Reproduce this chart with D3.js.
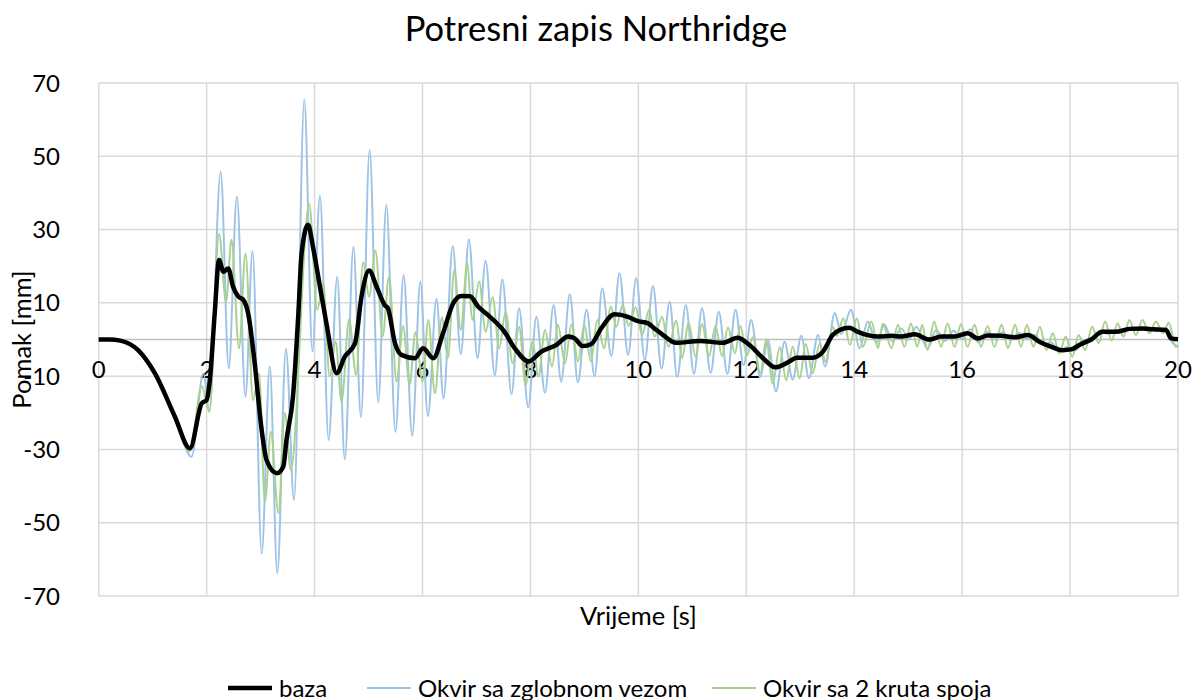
<!DOCTYPE html>
<html>
<head>
<meta charset="utf-8">
<script src="https://cdn.jsdelivr.net/npm/d3@7"></script>
<style>
  body { margin: 0; background: #fff; }
  text { font-family: Lato, "Open Sans", sans-serif; fill: #000; }
</style>
</head>
<body>
<div id="chart"></div>
<script>
// time [s], displacement [mm] (extremes + shape points)
var baza = [
  [0,0],[0.2,0],[0.4,-0.3],[0.73,-2.9],[1.04,-9.2],[1.41,-21],[1.69,-29.7],[1.91,-17.4],[2.0,-16.5],
  [2.06,-11],[2.15,7.2],[2.23,21.7],[2.31,18.5],[2.40,19.4],[2.49,14.4],[2.59,11.7],[2.68,10.8],
  [2.77,7.1],[2.89,-6.4],[3.02,-24.7],[3.11,-32.9],[3.30,-36.5],[3.42,-34.7],[3.48,-27.4],[3.60,-15.6],
  [3.70,7.1],[3.76,23.5],[3.88,31.3],[3.97,25.3],[4.10,14.4],[4.22,4.4],[4.41,-9.2],[4.56,-4.7],
  [4.75,-1.0],[4.87,11.7],[5.01,18.8],[5.15,14.4],[5.30,9.4],[5.36,8.5],[5.49,-1.0],[5.61,-4.2],
  [5.86,-5.1],[6.01,-2.4],[6.20,-5.1],[6.38,1.7],[6.57,9.9],[6.72,11.9],[6.88,11.8],[7.03,9.0],
  [7.21,6.7],[7.52,2.1],[7.71,-2.4],[7.97,-6.0],[8.20,-3.3],[8.48,-1.5],[8.70,0.8],[8.82,0.3],
  [8.97,-1.8],[9.13,-1.2],[9.31,3.0],[9.56,6.9],[9.81,6.2],[9.99,5.0],[10.18,4.4],[10.30,3.0],
  [10.46,1.2],[10.70,-0.9],[11.14,-0.4],[11.57,-0.9],[11.84,0.5],[12.06,-1.5],[12.31,-5.1],[12.54,-7.6],
  [12.80,-6.0],[12.93,-5.0],[13.23,-5.0],[13.42,-3.3],[13.60,1.2],[13.73,2.6],[13.91,3.2],[14.07,2.1],
  [14.25,1.2],[14.44,0.8],[14.69,1.0],[14.87,0.8],[15.12,1.4],[15.39,0.0],[15.61,0.8],[15.86,0.8],
  [16.10,1.7],[16.29,0.3],[16.47,1.1],[16.72,1.0],[16.97,0.6],[17.22,1.2],[17.43,-0.6],[17.62,-1.8],
  [17.86,-2.9],[18.02,-2.7],[18.17,-1.5],[18.39,0.0],[18.60,2.1],[18.85,2.1],[19.10,2.9],[19.34,3.0],
  [19.53,2.8],[19.78,2.6],[19.87,0.3],[20.0,0.1]
];

var zglobni = [
  [0,0],[0.2,0],[0.4,-0.3],[0.73,-2.9],[1.04,-9.2],[1.41,-21],[1.72,-32],[1.94,-9.2],[2.05,-19.7],
  [2.26,45.8],[2.41,-7.9],[2.56,39.0],[2.72,-15.6],[2.85,24.2],[3.02,-58.4],[3.17,-7.4],[3.31,-63.8],
  [3.47,-2.5],[3.62,-43.8],[3.81,65.4],[3.96,-3.3],[4.10,39.2],[4.26,-27.4],[4.42,17.1],[4.56,-32.7],
  [4.72,25.3],[4.86,-21.2],[5.02,51.7],[5.18,-17.2],[5.33,36.7],[5.50,-25.2],[5.65,17.6],[5.81,-26.3],
  [5.96,15.8],[6.10,-20.9],[6.26,11.1],[6.39,-16.1],[6.56,25.5],[6.71,-4.0],[6.86,27.3],[7.02,-5.1],
  [7.17,21.5],[7.34,-9.7],[7.48,16.4],[7.65,-14.9],[7.79,8.5],[7.96,-18.5],[8.11,6.2],[8.27,-14.5],
  [8.43,9.4],[8.57,-11.5],[8.73,12.4],[8.88,-11.7],[9.04,8.1],[9.19,-10.0],[9.33,14.0],[9.50,-4.5],
  [9.65,18.1],[9.81,-4.2],[9.96,16.7],[10.12,-5.6],[10.27,14.6],[10.43,-7.9],[10.58,10.3],[10.72,-10.3],
  [10.88,9.4],[11.03,-9.4],[11.18,8.5],[11.34,-9.1],[11.49,7.6],[11.65,-9.4],[11.80,8.1],[11.95,-7.0],
  [12.09,5.3],[12.26,-10.2],[12.40,-0.1],[12.55,-14.2],[12.71,-0.6],[12.86,-10.9],[13.02,1.0],[13.16,-10.6],
  [13.33,1.2],[13.46,-7.4],[13.64,7.2],[13.76,1.5],[13.94,8.1],[14.10,-2.4],[14.25,4.9],[14.41,-1.0],
  [14.56,4.0],[14.71,-0.6],[14.87,3.0],[15.02,-0.1],[15.15,3.5],[15.36,-2.5],[15.52,2.6],[15.68,-0.4],
  [15.84,2.4],[16.0,0.2],[16.15,2.8],[16.3,-0.8],[16.45,2.2],[16.6,0.0],[16.75,2.0],[16.9,-0.2],
  [17.05,1.8],[17.2,0.2],[17.35,1.2],[17.5,-1.5],[17.65,-0.8],[17.8,-3.5],[17.95,-2.0],[18.1,-3.0],
  [18.25,-0.2],[18.4,-0.5],[18.55,2.4],[18.7,1.5],[18.85,2.6],[19.0,2.0],[19.15,3.3],[19.3,2.6],
  [19.45,3.3],[19.6,2.3],[19.75,3.0],[19.9,-1.0],[20.0,-2.0]
];

var kruti = [
  [0,0],[0.2,0],[0.4,-0.3],[0.73,-2.9],[1.04,-9.2],[1.41,-21],[1.69,-30.5],[1.91,-12.7],[2.05,-19.7],
  [2.23,28.8],[2.36,10.3],[2.46,27.2],[2.60,-2.4],[2.72,23.5],[2.86,-16.5],[2.97,-9.2],[3.08,-44.3],
  [3.19,-25.2],[3.33,-47.3],[3.45,-20.1],[3.56,-35.6],[3.90,37.0],[4.05,8.1],[4.16,15.3],[4.28,-10.1],
  [4.39,-0.6],[4.50,-17.0],[4.64,5.5],[4.77,-9.7],[4.90,21.0],[5.01,11.7],[5.13,24.2],[5.26,0.8],
  [5.38,17.1],[5.52,-11.5],[5.64,3.7],[5.76,-12.4],[5.87,2.0],[6.00,-11.5],[6.11,5.3],[6.23,-14.7],
  [6.36,6.1],[6.47,-5.1],[6.59,19.0],[6.71,2.6],[6.83,21.0],[6.92,5.3],[7.05,15.8],[7.17,2.1],
  [7.30,11.5],[7.42,-2.4],[7.54,7.6],[7.67,-6.5],[7.79,3.5],[7.91,-12.4],[8.04,-0.6],[8.15,-10.1],
  [8.27,2.6],[8.40,-7.4],[8.51,4.0],[8.64,-6.5],[8.76,4.0],[8.88,-6.0],[9.00,4.0],[9.12,-6.0],
  [9.24,5.3],[9.36,-2.4],[9.49,9.0],[9.59,3.5],[9.71,9.4],[9.82,3.7],[9.95,8.8],[10.07,1.2],
  [10.20,8.2],[10.30,0.8],[10.44,6.2],[10.56,-2.0],[10.70,5.1],[10.81,-5.1],[10.93,4.6],[11.06,-4.7],
  [11.18,4.2],[11.31,-4.5],[11.43,3.7],[11.55,-4.5],[11.66,3.3],[11.79,-3.8],[11.89,3.7],[12.01,-4.5],
  [12.12,0.6],[12.26,-9.2],[12.37,0.0],[12.49,-12.0],[12.62,-2.1],[12.74,-11.1],[12.86,-2.0],[12.99,-10.6],
  [13.10,-1.2],[13.23,-9.2],[13.36,-1.2],[13.47,-6.0],[13.60,3.5],[13.68,1.0],[13.80,5.8],[13.92,-1.5],
  [14.05,5.8],[14.16,-2.0],[14.32,4.9],[14.44,-2.4],[14.53,4.4],[14.69,-2.4],[14.81,4.0],[14.93,-2.0],
  [15.05,4.4],[15.17,-2.0],[15.26,4.0],[15.36,-2.9],[15.48,4.9],[15.61,-2.0],[15.73,4.4],[15.86,-2.0],
  [15.98,4.2],[16.10,-2.0],[16.23,4.0],[16.35,-2.0],[16.47,3.7],[16.60,-2.0],[16.73,4.0],[16.85,-2.4],
  [16.98,4.0],[17.09,-2.0],[17.20,4.0],[17.32,-2.0],[17.44,3.5],[17.56,-2.9],[17.68,1.7],[17.80,-3.8],
  [17.92,0.8],[18.04,-4.7],[18.16,1.2],[18.28,-2.9],[18.41,3.5],[18.53,-1.0],[18.65,4.9],[18.77,-0.3],
  [18.88,4.4],[18.99,0.8],[19.10,5.3],[19.22,1.2],[19.34,5.3],[19.47,1.7],[19.59,4.9],[19.72,1.7],
  [19.83,4.6],[19.96,-2.0],[20.0,-1.5]
];

var xTicks = [0,2,4,6,8,10,12,14,16,18,20];
var yTicks = [-70,-50,-30,-10,10,30,50,70];

var width = 1192, height = 700;
var mLeft = 98.7, mRight = 1178, mTop = 83, mBottom = 596;

var svg = d3.select("#chart").append("svg")
    .attr("width", width)
    .attr("height", height);

var x = d3.scaleLinear().domain([0, 20]).range([mLeft, mRight]);
var y = d3.scaleLinear().domain([-70, 70]).range([mBottom, mTop]);

// grid
svg.append("g").selectAll("line")
  .data(yTicks)
  .enter().append("line")
    .attr("x1", mLeft).attr("x2", mRight)
    .attr("y1", function(d) { return y(d); })
    .attr("y2", function(d) { return y(d); })
    .attr("stroke", "#d9d9d9")
    .attr("stroke-width", 1.5);

svg.append("g").selectAll("line")
  .data(xTicks)
  .enter().append("line")
    .attr("y1", mTop).attr("y2", mBottom)
    .attr("x1", function(d) { return x(d); })
    .attr("x2", function(d) { return x(d); })
    .attr("stroke", "#d9d9d9")
    .attr("stroke-width", 1.5);

// zero axis
svg.append("line")
    .attr("x1", mLeft).attr("x2", mRight)
    .attr("y1", y(0)).attr("y2", y(0))
    .attr("stroke", "#bfbfbf")
    .attr("stroke-width", 1.5);

// tick labels
svg.append("g").selectAll("text")
  .data(yTicks)
  .enter().append("text")
    .attr("x", 60)
    .attr("y", function(d) { return y(d) + 8.5; })
    .attr("text-anchor", "end")
    .style("font-size", "24px")
    .text(function(d) { return d; });

svg.append("g").selectAll("text")
  .data(xTicks)
  .enter().append("text")
    .attr("x", function(d) { return x(d); })
    .attr("y", y(0) + 38)
    .attr("text-anchor", "middle")
    .style("font-size", "24px")
    .text(function(d) { return d; });

// series
var line = d3.line()
    .curve(d3.curveMonotoneX)
    .x(function(d) { return x(d[0]); })
    .y(function(d) { return y(d[1]); });

var series = [
  {name: "Okvir sa zglobnom vezom", data: zglobni, color: "#9dc3e6", w: 2},
  {name: "Okvir sa 2 kruta spoja", data: kruti, color: "#a9d18e", w: 2},
  {name: "baza", data: baza, color: "#000000", w: 4.5}
];

svg.append("g").selectAll("path")
  .data(series)
  .enter().append("path")
    .attr("d", function(d) { return line(d.data); })
    .attr("fill", "none")
    .attr("stroke", function(d) { return d.color; })
    .attr("stroke-width", function(d) { return d.w; })
    .attr("stroke-linejoin", "round");

// titles
svg.append("text")
    .attr("x", 596).attr("y", 41)
    .attr("text-anchor", "middle")
    .style("font-size", "34.5px")
    .text("Potresni zapis Northridge");

svg.append("text")
    .attr("x", (mLeft + mRight) / 2).attr("y", 625)
    .attr("text-anchor", "middle")
    .style("font-size", "25.5px")
    .text("Vrijeme [s]");

svg.append("text")
    .attr("transform", "translate(31," + y(0) + ")rotate(-90)")
    .attr("text-anchor", "middle")
    .style("font-size", "25.5px")
    .text("Pomak [mm]");

// legend
var legend = [
  {name: "baza", color: "#000000", w: 4.5, x: 228},
  {name: "Okvir sa zglobnom vezom", color: "#9dc3e6", w: 2, x: 367},
  {name: "Okvir sa 2 kruta spoja", color: "#a9d18e", w: 2, x: 712}
];

var lg = svg.append("g").selectAll("g")
  .data(legend)
  .enter().append("g")
    .attr("transform", function(d) { return "translate(" + d.x + ",688)"; });

lg.append("line")
    .attr("x1", 0).attr("x2", 44)
    .attr("stroke", function(d) { return d.color; })
    .attr("stroke-width", function(d) { return d.w; });

lg.append("text")
    .attr("x", 51).attr("y", 8.5)
    .style("font-size", "24px")
    .text(function(d) { return d.name; });
</script>
</body>
</html>
